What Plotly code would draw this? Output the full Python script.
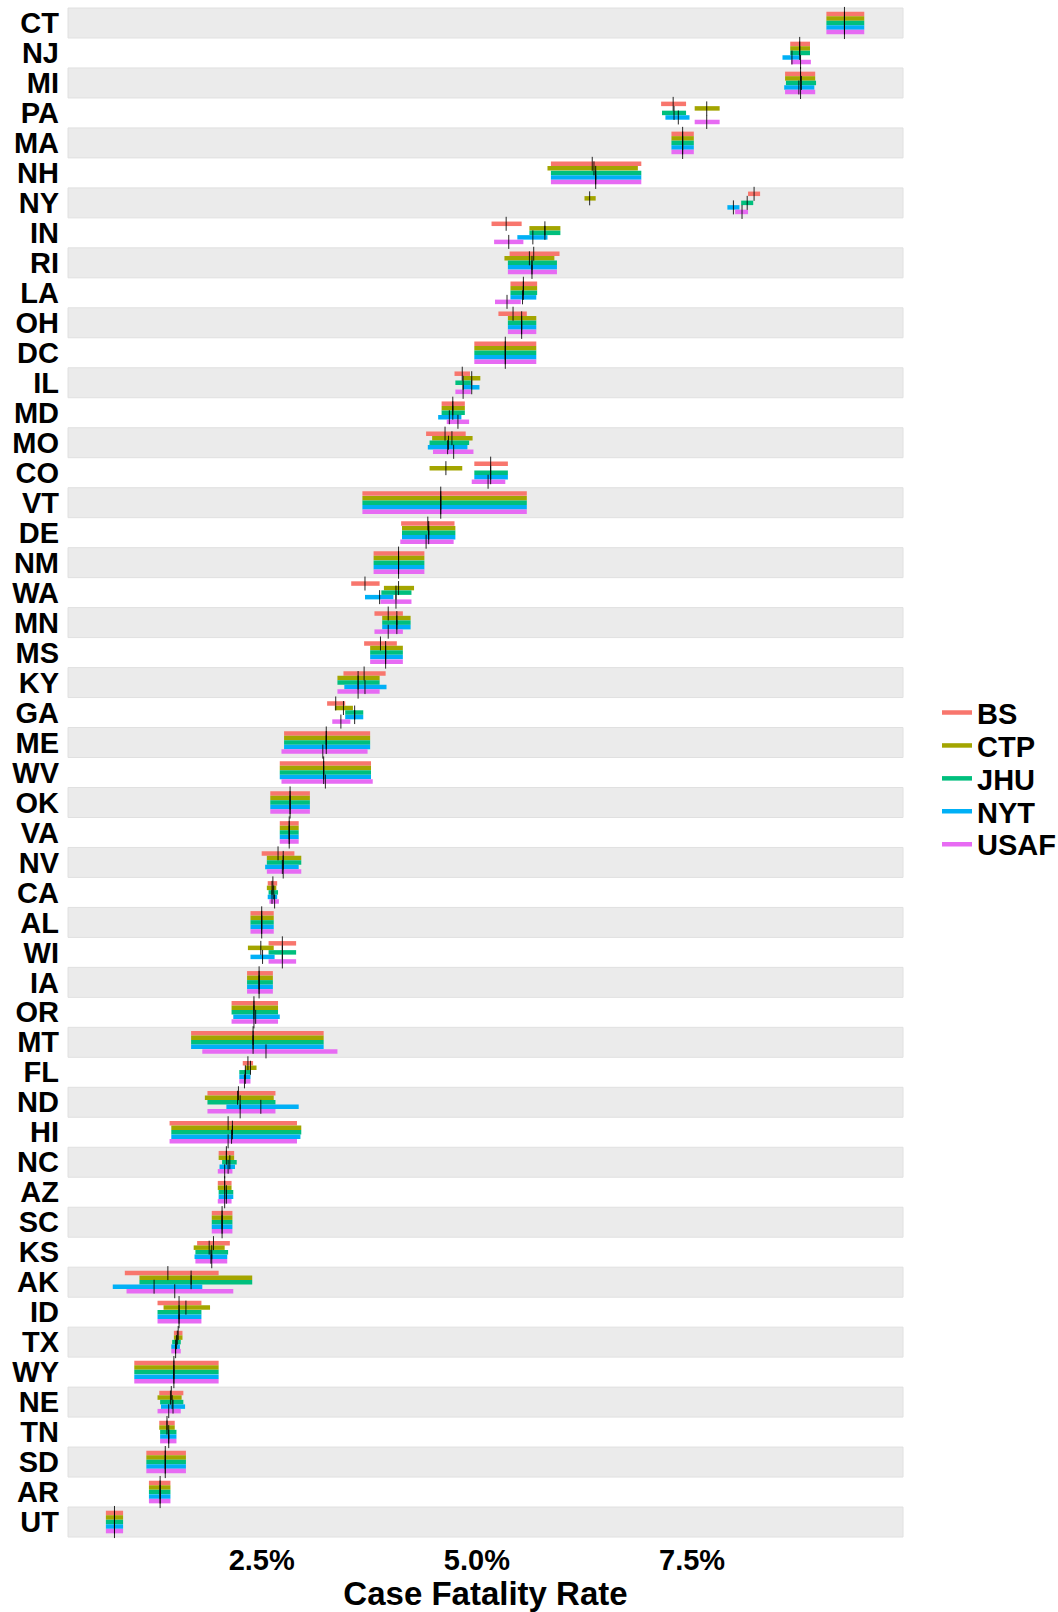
import plotly.graph_objects as go

states = ["CT","NJ","MI","PA","MA","NH","NY","IN","RI","LA","OH","DC","IL","MD","MO","CO","VT","DE","NM","WA",
          "MN","MS","KY","GA","ME","WV","OK","VA","NV","CA","AL","WI","IA","OR","MT","FL","ND","HI","NC","AZ",
          "SC","KS","AK","ID","TX","WY","NE","TN","SD","AR","UT"]

sources = ["BS", "CTP", "JHU", "NYT", "USAF"]

BS_lo = [9.06,8.64,8.58,7.14,7.26,5.86,8.15,5.17,5.38,5.39,5.25,4.97,4.74,4.59,4.41,4.97,3.67,4.12,3.80,3.54,3.81,3.69,3.45,3.26,2.76,2.71,2.60,2.71,2.50,2.57,2.37,2.58,2.33,2.15,1.68,2.28,1.87,1.43,2.00,1.99,1.92,1.75,0.91,1.29,1.48,1.02,1.31,1.31,1.16,1.19,0.69]
BS_est = [9.27,8.75,8.76,7.28,7.39,6.34,8.22,5.34,5.66,5.54,5.42,5.33,4.83,4.72,4.63,5.16,4.58,4.43,4.09,3.70,3.97,3.88,3.69,3.36,3.25,3.22,2.83,2.82,2.69,2.63,2.50,2.74,2.47,2.41,2.40,2.34,2.23,2.11,2.09,2.07,2.04,1.94,1.41,1.54,1.53,1.48,1.45,1.40,1.38,1.32,0.79]
BS_hi = [9.50,8.87,8.93,7.43,7.52,6.91,8.29,5.52,5.96,5.70,5.58,5.69,4.92,4.86,4.87,5.36,5.58,4.74,4.39,3.87,4.14,4.07,3.94,3.47,3.76,3.77,3.06,2.93,2.88,2.68,2.64,2.90,2.63,2.69,3.22,2.40,2.66,2.91,2.18,2.15,2.16,2.13,2.00,1.80,1.58,2.00,1.59,1.49,1.62,1.44,0.89]

CTP_lo = [9.06,8.64,8.58,7.53,7.26,5.82,6.25,5.61,5.32,5.39,5.36,4.97,4.84,4.59,4.48,4.45,3.67,4.13,3.80,3.92,3.90,3.76,3.38,3.35,2.76,2.71,2.60,2.71,2.56,2.56,2.37,2.34,2.33,2.15,1.68,2.31,1.84,1.45,2.00,1.99,1.92,1.71,1.08,1.36,1.48,1.02,1.29,1.31,1.16,1.19,0.69]
CTP_est = [9.27,8.75,8.76,7.67,7.39,6.36,6.31,5.79,5.61,5.54,5.52,5.33,4.94,4.72,4.71,4.64,4.58,4.44,4.09,4.09,4.07,3.94,3.62,3.45,3.25,3.22,2.83,2.82,2.75,2.62,2.50,2.49,2.47,2.41,2.40,2.37,2.22,2.16,2.09,2.07,2.04,1.89,1.68,1.62,1.52,1.48,1.44,1.40,1.38,1.32,0.79]
CTP_hi = [9.50,8.87,8.93,7.82,7.52,6.87,6.38,5.97,5.90,5.70,5.69,5.69,5.04,4.86,4.95,4.83,5.58,4.75,4.39,4.27,4.23,4.14,3.87,3.56,3.76,3.77,3.06,2.93,2.96,2.67,2.64,2.64,2.63,2.69,3.22,2.44,2.64,2.96,2.18,2.15,2.16,2.07,2.39,1.90,1.58,2.00,1.57,1.49,1.62,1.44,0.89]

JHU_lo = [9.06,8.64,8.59,7.15,7.26,5.86,8.07,5.61,5.36,5.39,5.36,4.97,4.75,4.59,4.45,4.97,3.67,4.13,3.80,3.89,3.90,3.76,3.38,3.47,2.76,2.71,2.60,2.71,2.56,2.58,2.37,2.58,2.33,2.15,1.68,2.24,1.87,1.45,2.04,2.00,1.92,1.73,1.08,1.29,1.46,1.02,1.32,1.32,1.16,1.19,0.69]
JHU_est = [9.27,8.75,8.77,7.29,7.39,6.38,8.14,5.79,5.64,5.54,5.52,5.33,4.84,4.72,4.67,5.16,4.58,4.44,4.09,4.06,4.07,3.94,3.62,3.58,3.25,3.22,2.83,2.82,2.75,2.64,2.50,2.74,2.47,2.41,2.40,2.31,2.25,2.16,2.13,2.09,2.04,1.92,1.68,1.54,1.51,1.48,1.46,1.42,1.38,1.32,0.79]
JHU_hi = [9.50,8.87,8.94,7.43,7.52,6.91,8.21,5.97,5.93,5.70,5.69,5.69,4.93,4.86,4.91,5.36,5.58,4.75,4.39,4.24,4.23,4.14,3.87,3.68,3.76,3.77,3.06,2.93,2.96,2.69,2.64,2.90,2.63,2.69,3.22,2.37,2.66,2.96,2.21,2.17,2.16,2.11,2.39,1.80,1.56,2.00,1.59,1.51,1.62,1.44,0.89]

NYT_lo = [9.06,8.55,8.57,7.19,7.26,5.86,7.91,5.47,5.36,5.39,5.36,4.97,4.84,4.55,4.43,4.97,3.67,4.13,3.80,3.70,3.90,3.76,3.46,3.47,2.76,2.71,2.60,2.71,2.54,2.57,2.37,2.37,2.33,2.17,1.68,2.24,2.09,1.45,2.01,2.00,1.92,1.72,0.77,1.29,1.45,1.02,1.33,1.32,1.16,1.19,0.69]
NYT_est = [9.27,8.66,8.74,7.34,7.39,6.38,7.98,5.65,5.64,5.53,5.52,5.33,4.94,4.68,4.66,5.16,4.58,4.44,4.09,3.87,4.07,3.94,3.70,3.58,3.25,3.22,2.83,2.82,2.74,2.62,2.50,2.51,2.47,2.43,2.40,2.31,2.49,2.15,2.11,2.09,2.04,1.91,1.25,1.54,1.50,1.48,1.47,1.42,1.38,1.32,0.79]
NYT_hi = [9.50,8.76,8.92,7.47,7.52,6.91,8.05,5.82,5.93,5.69,5.69,5.69,5.03,4.82,4.89,5.36,5.58,4.75,4.39,4.03,4.23,4.14,3.95,3.68,3.76,3.77,3.06,2.93,2.93,2.68,2.64,2.65,2.63,2.71,3.22,2.37,2.93,2.95,2.19,2.17,2.16,2.10,1.81,1.80,1.55,2.00,1.61,1.51,1.62,1.44,0.89]

USAF_lo = [9.06,8.65,8.58,7.53,7.26,5.86,8.00,5.20,5.36,5.21,5.36,4.97,4.75,4.65,4.49,4.94,3.67,4.11,3.80,3.88,3.81,3.76,3.38,3.32,2.73,2.73,2.60,2.71,2.56,2.59,2.37,2.58,2.33,2.15,1.81,2.24,1.87,1.43,1.99,1.99,1.92,1.73,0.93,1.29,1.45,1.02,1.29,1.32,1.16,1.19,0.69]
USAF_est = [9.27,8.76,8.76,7.67,7.39,6.38,8.08,5.37,5.64,5.35,5.52,5.33,4.84,4.78,4.73,5.13,4.58,4.41,4.09,4.06,3.97,3.94,3.62,3.42,3.21,3.24,2.83,2.82,2.75,2.65,2.50,2.74,2.47,2.41,2.55,2.30,2.25,2.11,2.07,2.07,2.04,1.92,1.49,1.54,1.50,1.48,1.42,1.42,1.38,1.32,0.79]
USAF_hi = [9.50,8.88,8.93,7.82,7.52,6.91,8.15,5.54,5.93,5.51,5.69,5.69,4.93,4.91,4.96,5.33,5.58,4.73,4.39,4.24,4.14,4.14,3.87,3.53,3.73,3.79,3.06,2.93,2.96,2.70,2.64,2.90,2.63,2.69,3.38,2.37,2.66,2.91,2.16,2.15,2.16,2.10,2.17,1.80,1.56,2.00,1.56,1.51,1.62,1.44,0.89]

x_ticks = [2.5, 5.0, 7.5]
x_tick_labels = ["2.5%", "5.0%", "7.5%"]

data = {
    "BS": (BS_lo, BS_est, BS_hi),
    "CTP": (CTP_lo, CTP_est, CTP_hi),
    "JHU": (JHU_lo, JHU_est, JHU_hi),
    "NYT": (NYT_lo, NYT_est, NYT_hi),
    "USAF": (USAF_lo, USAF_est, USAF_hi),
}
colors = {"BS": "#F8766D", "CTP": "#A3A500", "JHU": "#00BF7D", "NYT": "#00B0F6", "USAF": "#E76BF3"}

FONT = "Liberation Sans, Arial, Helvetica, sans-serif"
W, H = 1058, 1612
M_L, M_R, M_T, M_B = 68, 155, 5, 72
rows = list(range(len(states)))
dodge = 0.151

fig = go.Figure()

legend_ids = ["legend", "legend2", "legend3", "legend4", "legend5"]

# range bars
for k, src in enumerate(sources):
    lo, est, hi = data[src]
    off = (k - 2) * dodge
    xs, ys = [], []
    for i in rows:
        xs += [lo[i], hi[i], None]
        ys += [i + off, i + off, None]
    fig.add_trace(go.Scatter(
        x=xs, y=ys, mode="lines", name=src, legend=legend_ids[k],
        line=dict(color=colors[src], width=4.5),
        hoverinfo="skip",
    ))

# point estimate ticks
for k, src in enumerate(sources):
    lo, est, hi = data[src]
    off = (k - 2) * dodge
    fig.add_trace(go.Scatter(
        x=est, y=[i + off for i in rows], mode="markers", showlegend=False,
        marker=dict(symbol="line-ns", size=10, color="black",
                    line=dict(color="rgba(0,0,0,0.85)", width=1)),
        hovertext=[f"{s} {src}" for s in states],
    ))

# alternating background bands
shapes = []
for i in rows:
    if i % 2 == 0:
        shapes.append(dict(type="rect", xref="paper", yref="y", x0=0, x1=1,
                           y0=i - 0.5, y1=i + 0.5, fillcolor="#EBEBEB",
                           line=dict(color="#E0E0E0", width=1), layer="below"))

plot_h = H - M_T - M_B
plot_w = W - M_L - M_R
leg_font = dict(family=FONT, size=29, color="black", weight="bold")
leg_x = (937 - M_L) / plot_w
leg_centers_px = [712.7, 745.6, 778.5, 811.4, 844.3]
legends = {}
for lid, cy in zip(legend_ids, leg_centers_px):
    legends[lid] = dict(
        x=leg_x, xanchor="left", y=(H - M_B - cy) / plot_h, yanchor="middle",
        font=leg_font, itemwidth=30, bgcolor="rgba(0,0,0,0)", borderwidth=0,
    )

fig.update_layout(
    width=W, height=H,
    margin=dict(l=M_L, r=M_R, t=M_T, b=M_B, autoexpand=False),
    paper_bgcolor="white", plot_bgcolor="white",
    shapes=shapes,
    font=dict(family=FONT, color="black"),
    xaxis=dict(
        range=[0.25, 9.95], tickvals=x_ticks, ticktext=x_tick_labels,
        tickfont=dict(family=FONT, size=29, color="black", weight="bold"),
        showgrid=False, zeroline=False, showline=False, ticks="",
        automargin=False,
        title=dict(text="Case Fatality Rate", standoff=0,
                   font=dict(family=FONT, size=33, color="black", weight="bold")),
    ),
    yaxis=dict(
        range=[len(states) - 1 + 0.6, -0.6], tickvals=rows, ticktext=states,
        tickfont=dict(family=FONT, size=29, color="black", weight="bold"),
        showgrid=False, zeroline=False, showline=False, ticks="",
        ticklabelstandoff=8, automargin=False,
    ),
    **legends,
)

fig.write_html(
    "out.html",
    config={"displayModeBar": False},
    post_script="document.body.style.margin='0px';document.body.style.overflow='hidden';",
)
